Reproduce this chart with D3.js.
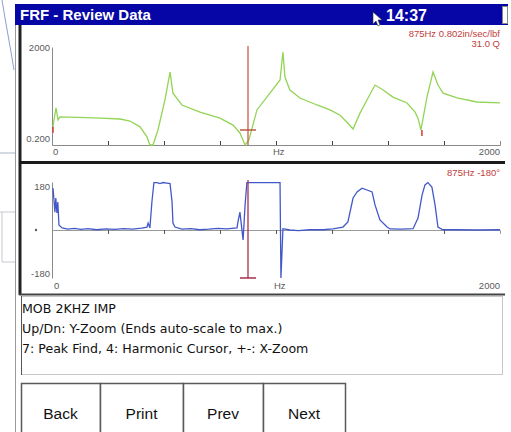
<!DOCTYPE html>
<html>
<head>
<meta charset="utf-8">
<script src="https://cdn.jsdelivr.net/npm/d3@7"></script>
<style>
  body { margin: 0; background: #fff; }
  svg { display: block; font-family: "Liberation Sans", Arial, sans-serif; }
</style>
</head>
<body>
<svg id="chart" width="511" height="432"></svg>
<script>
// FRF magnitude (in/sec/lbf, log axis)
const magFreq = [4, 18, 27, 36, 120, 214, 304, 348, 393, 424, 437, 451, 473, 504, 527, 540, 580, 661, 750, 808, 839, 862, 879, 915, 973, 1018, 1031, 1040, 1062, 1107, 1183, 1241, 1286, 1317, 1344, 1375, 1406, 1442, 1478, 1522, 1585, 1621, 1634, 1647, 1674, 1701, 1723, 1746, 1808, 1897, 2000];
const magValue = [1.1, 6.5, 2.1, 2.8, 2.7, 2.5, 2.3, 1.9, 1.1, 0.43, 0.15, 0.18, 0.82, 13.7, 190, 26, 8.6, 4.4, 2.5, 1.3, 0.62, 0.18, 0.32, 5.4, 26, 90, 1250, 119, 35, 16.6, 8.6, 5.4, 3.3, 1.7, 0.9, 4.0, 13.7, 56, 35, 18, 10.4, 4.4, 2.5, 0.82, 18, 190, 56, 26, 16.6, 11.4, 10.4];

// phase (deg)
const phaseFreq = [4.5, 13, 17, 22, 26, 31, 45, 70, 100, 130, 160, 200, 240, 280, 320, 360, 400, 424, 429, 437, 446, 455, 469, 482, 496, 513, 527, 536, 540, 549, 580, 620, 660, 700, 740, 780, 826, 830, 839, 853, 862, 870, 940, 1009, 1018, 1022, 1031, 1062, 1100, 1150, 1210, 1254, 1299, 1321, 1344, 1362, 1384, 1406, 1429, 1442, 1464, 1496, 1509, 1560, 1612, 1634, 1652, 1665, 1678, 1696, 1710, 1723, 1745, 1800, 1900, 2000];
const phaseDeg = [157, 67, 120, 64, 105, 19, 8, 3, 6, 2, 5, 1, 4, 2, 5, 3, 7, 11, 26, 8, 105, 178, 178, 174, 178, 176, 174, 105, 26, 11, 3, 5, 1, 3, 6, 4, 8, 30, 67, -37, 94, 178, 178, 178, 178, -180, 5, 0, -2, 1, 1, 4, 11, 30, 120, 143, 157, 150, 143, 94, 38, 11, 4, 3, 5, 45, 131, 169, 178, 161, 94, 11, 1, 1, 0, 1];

const xTicks = [0, 250, 500, 750, 1000, 1250, 1500, 1750, 2000];
const cursorFreq = 875;
const markerFreq = [0, 1647];
const infoLines = ["MOB 2KHZ IMP", "Up/Dn: Y-Zoom (Ends auto-scale to max.)", "7: Peak Find, 4: Harmonic Cursor, +-: X-Zoom"];
const buttons = ["Back", "Print", "Prev", "Next"];
const buttonEdges = [21, 100, 183, 263, 345];

const svg = d3.select("#chart");

// backdrop left of the device window
const bg = svg.append("g").attr("stroke", "#a9b2c4").attr("fill", "none");
bg.append("path").attr("d", "M2,0 C6,25 10,45 14,70").attr("stroke", "#8f9ccf");
bg.append("path").attr("d", "M0,153 H15");
bg.append("path").attr("d", "M0,212 H15 M2,212 V262 H15").attr("stroke", "#c4c8d0");

// title bar
svg.append("rect").attr("x", 15).attr("y", 4).attr("width", 493).attr("height", 21).attr("fill", "#0606a6");
svg.append("text").attr("x", 20).attr("y", 20).attr("fill", "#fff").attr("font-weight", "bold")
  .attr("font-size", 15).text("FRF - Review Data");
svg.append("text").attr("x", 386).attr("y", 21).attr("fill", "#fff").attr("font-weight", "bold")
  .attr("font-size", 16).text("14:37");
svg.append("path").attr("d", "M373,12 L373,24 L376,21 L378,26 L380,25 L378,20 L382,20 Z")
  .attr("fill", "#fff").attr("stroke", "#333").attr("stroke-width", 0.6);
svg.append("rect").attr("x", 502.5).attr("y", 6.5).attr("width", 5).attr("height", 17)
  .attr("fill", "#fff").attr("stroke", "#888");

// window frame
svg.append("line").attr("x1", 15.5).attr("x2", 15.5).attr("y1", 25).attr("y2", 432).attr("stroke", "#9a9a9a");
svg.append("line").attr("x1", 20).attr("x2", 20).attr("y1", 25).attr("y2", 295).attr("stroke", "#222").attr("stroke-width", 3);
svg.append("line").attr("x1", 19).attr("x2", 505).attr("y1", 162.5).attr("y2", 162.5).attr("stroke", "#1a1a1a").attr("stroke-width", 3);
svg.append("line").attr("x1", 19).attr("x2", 505).attr("y1", 294.5).attr("y2", 294.5).attr("stroke", "#444").attr("stroke-width", 2);

const x = d3.scaleLinear().domain([0, 2000]).range([52, 500]);
const yMag = d3.scaleLog().domain([0.2, 2000]).range([145, 47]).clamp(true);
const yPh = d3.scaleLinear().domain([-180, 180]).range([278, 182]);

const axisColor = "#8a8a8a";
const labelColor = "#5a5a5a";

function smallText(g, tx, ty, str, anchor, col) {
  g.append("text").attr("x", tx).attr("y", ty).attr("text-anchor", anchor || "start")
    .attr("font-size", 9.5).attr("fill", col || labelColor).text(str);
}

// ---- magnitude panel ----
const magPanel = svg.append("g");
const magAxis = magPanel.append("g").attr("transform", "translate(0,145)")
  .call(d3.axisBottom(x).tickValues(xTicks.slice(1, -1)).tickSize(-4).tickFormat(""));
magAxis.select(".domain").attr("stroke", axisColor);
magAxis.selectAll(".tick line").attr("stroke", "#444");
const magY = magPanel.append("g").attr("transform", "translate(52,0)")
  .call(d3.axisLeft(yMag).tickValues([]).tickSizeOuter(0));
magY.select(".domain").attr("stroke", axisColor);

smallText(magPanel, 50, 51, "2000", "end");
smallText(magPanel, 50, 142, "0.200", "end");
smallText(magPanel, 53, 155, "0");
smallText(magPanel, x(1000) - 3, 155, "Hz");
smallText(magPanel, 500, 155, "2000", "end");

const magLine = d3.line().x(i => x(magFreq[i])).y(i => yMag(magValue[i]));
magPanel.append("path").attr("d", magLine(d3.range(magFreq.length)))
  .attr("fill", "none").attr("stroke", "#93d455").attr("stroke-width", 1.3);

markerFreq.forEach(f => {
  const i = magFreq.findIndex(v => v >= f);
  const yy = yMag(magValue[i]);
  magPanel.append("line").attr("x1", x(f) + 1).attr("x2", x(f) + 1).attr("y1", yy).attr("y2", yy + 6)
    .attr("stroke", "#d23c2c").attr("stroke-width", 1.5);
});

// cursor
magPanel.append("line").attr("x1", x(cursorFreq)).attr("x2", x(cursorFreq)).attr("y1", 46).attr("y2", 145)
  .attr("stroke", "#c8503c").attr("stroke-width", 1.2);
magPanel.append("line").attr("x1", x(cursorFreq) - 8).attr("x2", x(cursorFreq) + 8).attr("y1", 130).attr("y2", 130)
  .attr("stroke", "#b0503a").attr("stroke-width", 1.4);

smallText(magPanel, 500, 37, "875Hz  0.802in/sec/lbf", "end", "#c0403c");
smallText(magPanel, 500, 47, "31.0 Q", "end", "#c0403c");

// ---- phase panel ----
const phPanel = svg.append("g");
const phAxis = phPanel.append("g").attr("transform", "translate(0,230)")
  .call(d3.axisBottom(x).tickValues(xTicks.slice(1, -1)).tickSize(4).tickFormat(""));
phAxis.select(".domain").attr("stroke", "#9a9a9a");
phAxis.selectAll(".tick line").attr("stroke", "#555");
const phY = phPanel.append("g").attr("transform", "translate(52,0)")
  .call(d3.axisLeft(yPh).tickValues([]).tickSizeOuter(0));
phY.select(".domain").attr("stroke", axisColor);

smallText(phPanel, 50, 190, "180", "end");
phPanel.append("circle").attr("cx", 36).attr("cy", 230).attr("r", 1.2).attr("fill", labelColor);
smallText(phPanel, 50, 277, "-180", "end");
smallText(phPanel, 54, 289, "0");
smallText(phPanel, x(1000) - 2, 289, "Hz");
smallText(phPanel, 500, 289, "2000", "end");

const phLine = d3.line().x(i => x(phaseFreq[i])).y(i => yPh(phaseDeg[i]));
phPanel.append("path").attr("d", phLine(d3.range(phaseFreq.length)))
  .attr("fill", "none").attr("stroke", "#4358c8").attr("stroke-width", 1.3);

phPanel.append("line").attr("x1", x(cursorFreq)).attr("x2", x(cursorFreq)).attr("y1", 180).attr("y2", 278)
  .attr("stroke", "#a8304e").attr("stroke-width", 1.3);
phPanel.append("line").attr("x1", x(cursorFreq) - 8).attr("x2", x(cursorFreq) + 8).attr("y1", 278).attr("y2", 278)
  .attr("stroke", "#a8304e").attr("stroke-width", 1.5);

smallText(phPanel, 500, 176, "875Hz  -180°", "end", "#c0403c");

// ---- info box ----
svg.append("rect").attr("x", 21.5).attr("y", 296.5).attr("width", 481).attr("height", 78)
  .attr("fill", "#fff").attr("stroke", "#c8c8c8");
svg.append("line").attr("x1", 21.5).attr("x2", 21.5).attr("y1", 296).attr("y2", 375).attr("stroke", "#555");
svg.selectAll(".info").data(infoLines).enter().append("text")
  .attr("x", 22).attr("y", (d, i) => 313 + i * 20)
  .attr("font-family", "'DejaVu Sans', sans-serif")
  .attr("font-size", 12.6).attr("fill", "#111").text(d => d);

// ---- buttons ----
const btn = svg.selectAll(".btn").data(buttons).enter().append("g");
btn.append("rect")
  .attr("x", (d, i) => buttonEdges[i] + 0.5).attr("y", 383.5)
  .attr("width", (d, i) => buttonEdges[i + 1] - buttonEdges[i]).attr("height", 60)
  .attr("fill", "#fff").attr("stroke", "#5a5a5a").attr("stroke-width", 1.5);
btn.append("text")
  .attr("x", (d, i) => (buttonEdges[i] + buttonEdges[i + 1]) / 2).attr("y", 419)
  .attr("text-anchor", "middle").attr("font-size", 15.5).attr("fill", "#111").text(d => d);
</script>
</body>
</html>
